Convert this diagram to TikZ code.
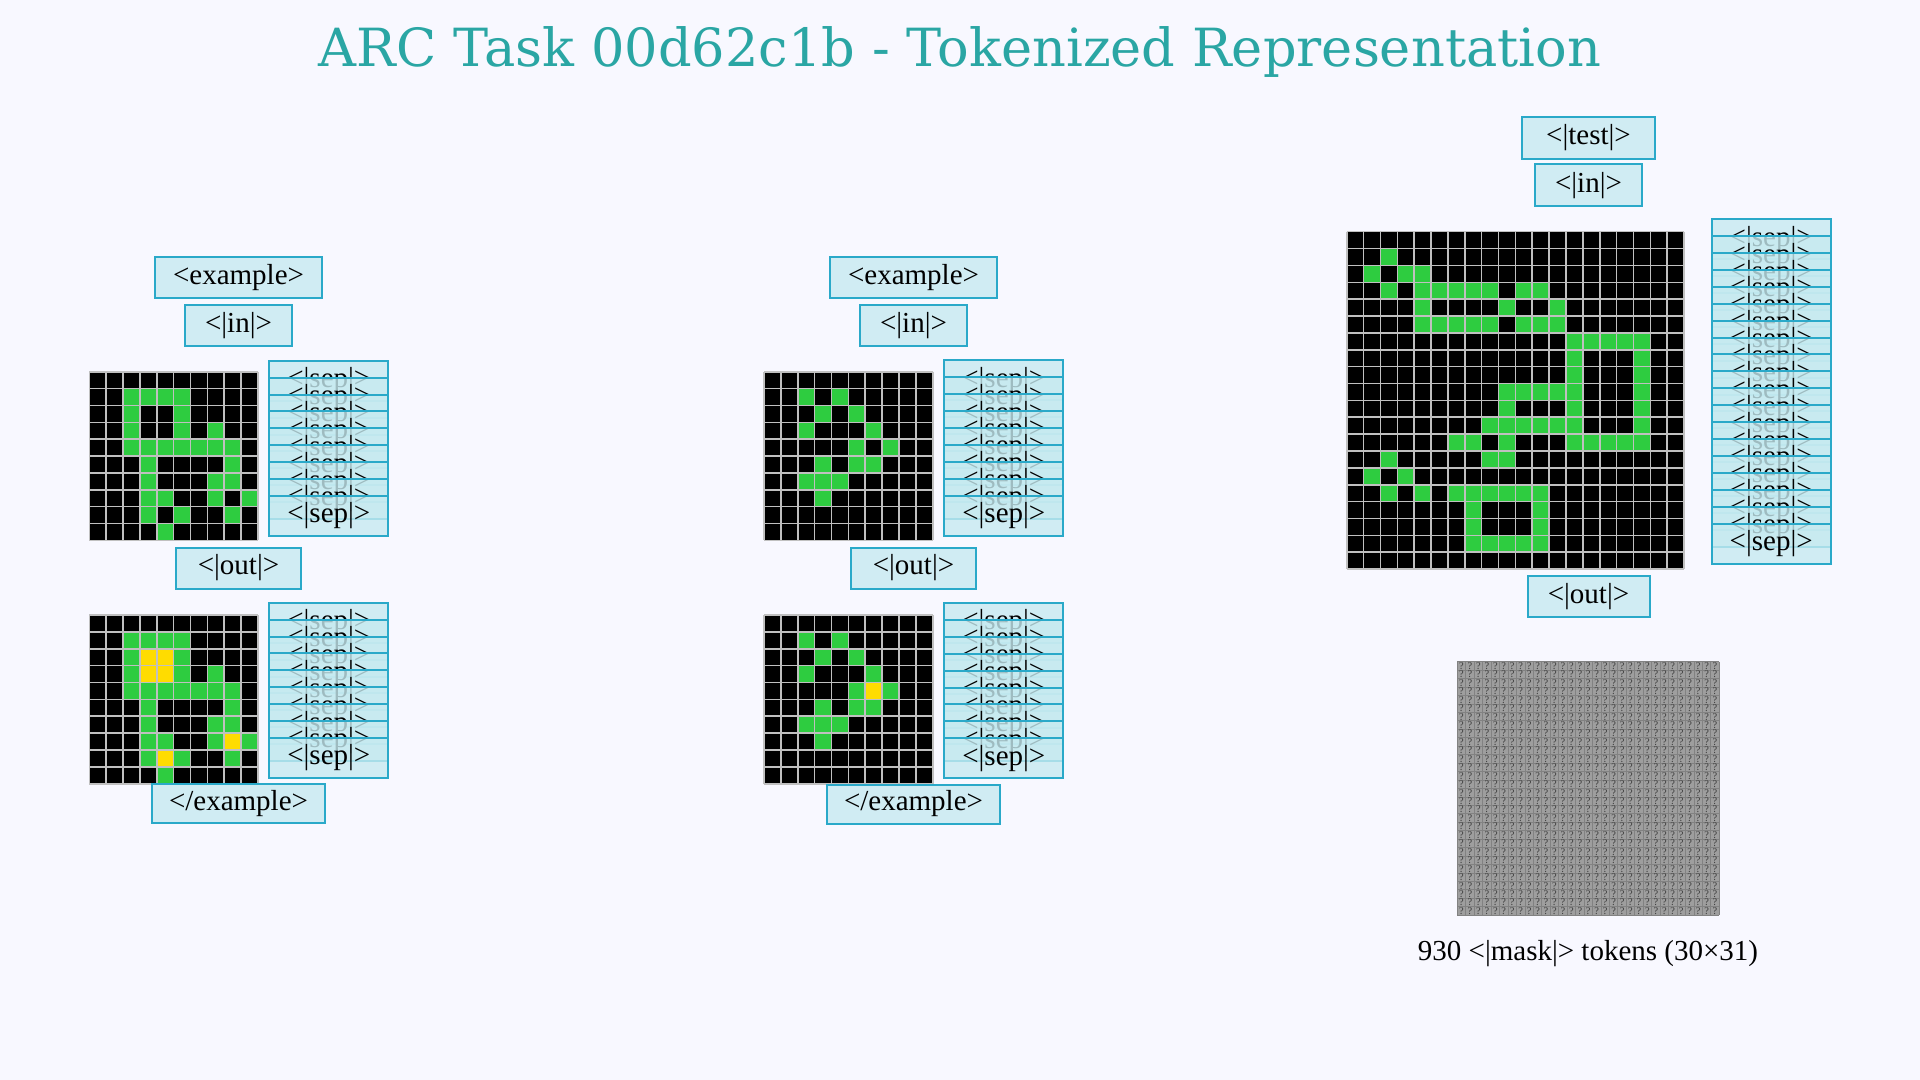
\documentclass[tikz,border=0pt]{standalone}
\usepackage{fontspec}
\setmainfont{Liberation Serif}
\newfontfamily\titlefont{DejaVu Serif}
\usepackage{tikz}
\usetikzlibrary{positioning}

\definecolor{bgcol}{HTML}{F8F8FF}
\definecolor{titlecol}{HTML}{2AA6A4}
\definecolor{tokfill}{HTML}{C6EAF0}
\definecolor{tokline}{HTML}{2AA9C9}
\definecolor{arcgreen}{HTML}{2ECC40}
\definecolor{arcyellow}{HTML}{FFDC00}
\definecolor{cellgray}{HTML}{C0C0C0}
\definecolor{maskfill}{HTML}{9E9E9E}
\definecolor{maskline}{HTML}{828282}
\definecolor{masktext}{HTML}{3C3C3C}

\tikzstyle{tokbox}=[draw=tokline,line width=1pt,fill=tokfill,fill opacity=0.8,text opacity=1,draw opacity=1,inner sep=0pt,minimum height=20.5pt,font=\fontsize{14.5}{16}\selectfont]

% cells of the grids, row/column
\newcommand{\greenA}{1/2,1/3,1/4,1/5,2/2,2/5,3/2,3/5,3/7,4/2,4/3,4/4,4/5,4/6,4/7,4/8,5/3,5/8,6/3,6/7,6/8,7/3,7/4,7/7,7/9,8/3,8/5,8/8,9/4}
\newcommand{\yellowA}{2/3,2/4,3/3,3/4,7/8,8/4}
\newcommand{\greenB}{1/2,1/4,2/3,2/5,3/2,3/6,4/5,4/7,5/3,5/5,5/6,6/2,6/3,6/4,7/3}
\newcommand{\yellowB}{4/6}
\newcommand{\greenC}{1/2,2/1,2/3,2/4,3/2,3/4,3/5,3/6,3/7,3/8,3/10,3/11,4/4,4/9,4/12,5/4,5/5,5/6,5/7,5/8,5/10,5/11,5/12,6/13,6/14,6/15,6/16,6/17,7/13,7/17,8/13,8/17,9/9,9/10,9/11,9/12,9/13,9/17,10/9,10/13,10/17,11/8,11/9,11/10,11/11,11/12,11/13,11/17,12/6,12/7,12/9,12/13,12/14,12/15,12/16,12/17,13/2,13/8,13/9,14/1,14/3,15/2,15/4,15/6,15/7,15/8,15/9,15/10,15/11,16/7,16/11,17/7,17/11,18/7,18/8,18/9,18/10,18/11}

\newcommand{\arcgrid}[3]{%
  \fill[black] (#1,#2) rectangle ++({#3*16.87},{#3*16.87});
  \foreach \i in {0,...,#3} {
    \draw[cellline] ({#1+\i*16.87},#2) -- ++(0,{#3*16.87});
    \draw[cellline] (#1,{#2+\i*16.87}) -- ++({#3*16.87},0);
  }
}
\newcommand{\paintcells}[4]{%
  \foreach \ri/\ci in #4
    \filldraw[cellline,fill=#3] ({#1+\ci*16.87},{#2+\ri*16.87}) rectangle ++(16.87,16.87);
}
\newcommand{\sepstack}[4]{%
  \foreach \k in {1,...,#4}
    \node (#1-\k) [sepbox] at ({#2+59.5},{#3+20+(\k-1)*16.9}) {<|sep|>};
}

\begin{document}
\begin{tikzpicture}[x=0.5pt,y=-0.5pt,node distance=23.75pt]

\tikzstyle{sepbox}=[tokbox,minimum width=59.5pt,minimum height=20pt]
\tikzstyle{cellline}=[draw=cellgray,line width=0.8pt]
\tikzstyle{qmark}=[inner sep=0pt,text=masktext,font=\fontsize{5.2}{5.2}\selectfont]

\fill[bgcol] (0,0) rectangle (1920,1080);

\node (title) [anchor=base,text=titlecol,font=\titlefont\fontsize{26.3}{30}\selectfont] at (960,66.7)
      {ARC Task 00d62c1b - Tokenized Representation};

% first example
\node (exA)  [tokbox,minimum width=83.5pt]  at (238.5,278)   {<example>};
\node (inA)  [tokbox,minimum width=53.3pt,below of=exA]      {<|in|>};
\arcgrid{89.3}{371.7}{10}
\paintcells{89.3}{371.7}{arcgreen}{\greenA}
\sepstack{sepAi}{269.3}{360.7}{9}
\node (outA) [tokbox,minimum width=62.5pt]  at (238.5,568)   {<|out|>};
\arcgrid{89.3}{615}{10}
\paintcells{89.3}{615}{arcgreen}{\greenA}
\paintcells{89.3}{615}{arcyellow}{\yellowA}
\sepstack{sepAo}{269.3}{602.7}{9}
\node (endA) [tokbox,minimum width=86.5pt,minimum height=19.5pt] at (238.5,803.8) {</example>};

% second example
\node (exB)  [tokbox,minimum width=83.5pt]  at (913.5,278)   {<example>};
\node (inB)  [tokbox,minimum width=53.3pt,below of=exB]      {<|in|>};
\arcgrid{764}{371.7}{10}
\paintcells{764}{371.7}{arcgreen}{\greenB}
\sepstack{sepBi}{944.3}{360.3}{9}
\node (outB) [tokbox,minimum width=62.5pt]  at (913.5,568)   {<|out|>};
\arcgrid{764}{615}{10}
\paintcells{764}{615}{arcgreen}{\greenB}
\paintcells{764}{615}{arcyellow}{\yellowB}
\sepstack{sepBo}{944.3}{603}{9}
\node (endB) [tokbox,minimum width=86.5pt,minimum height=19.5pt] at (913.5,804) {</example>};

% test input
\node (testC) [tokbox,minimum width=66.5pt,minimum height=21pt] at (1588.5,138) {<|test|>};
\node (inC)   [tokbox,minimum width=53.3pt,minimum height=21pt,below of=testC]  {<|in|>};
\arcgrid{1346.7}{231.7}{20}
\paintcells{1346.7}{231.7}{arcgreen}{\greenC}
\sepstack{sepC}{1711.7}{219.3}{19}
\node (outC)  [tokbox,minimum width=61pt]   at (1588.5,596.5) {<|out|>};

% masked output
\fill[maskfill] (1457.3,661.7) rectangle ++(261.95,253.5);
\foreach \i in {0,...,31}
  \draw[maskline,line width=0.4pt] ({1457.3+\i*8.45},661.7) -- ++(0,253.5);
\foreach \j in {0,...,30}
  \draw[maskline,line width=0.4pt] (1457.3,{661.7+\j*8.45}) -- ++(261.95,0);
\foreach \ri in {0,...,29}
  \foreach \ci in {0,...,30}
    \node (m-\ri-\ci) [qmark] at ({1457.3+(\ci+0.5)*8.45},{661.7+(\ri+0.5)*8.45}) {?};
\node (maskinfo) [anchor=base,font=\fontsize{14.5}{17}\selectfont] at (1588,960)
      {930 <|mask|> tokens (30×31)};

\end{tikzpicture}
\end{document}
